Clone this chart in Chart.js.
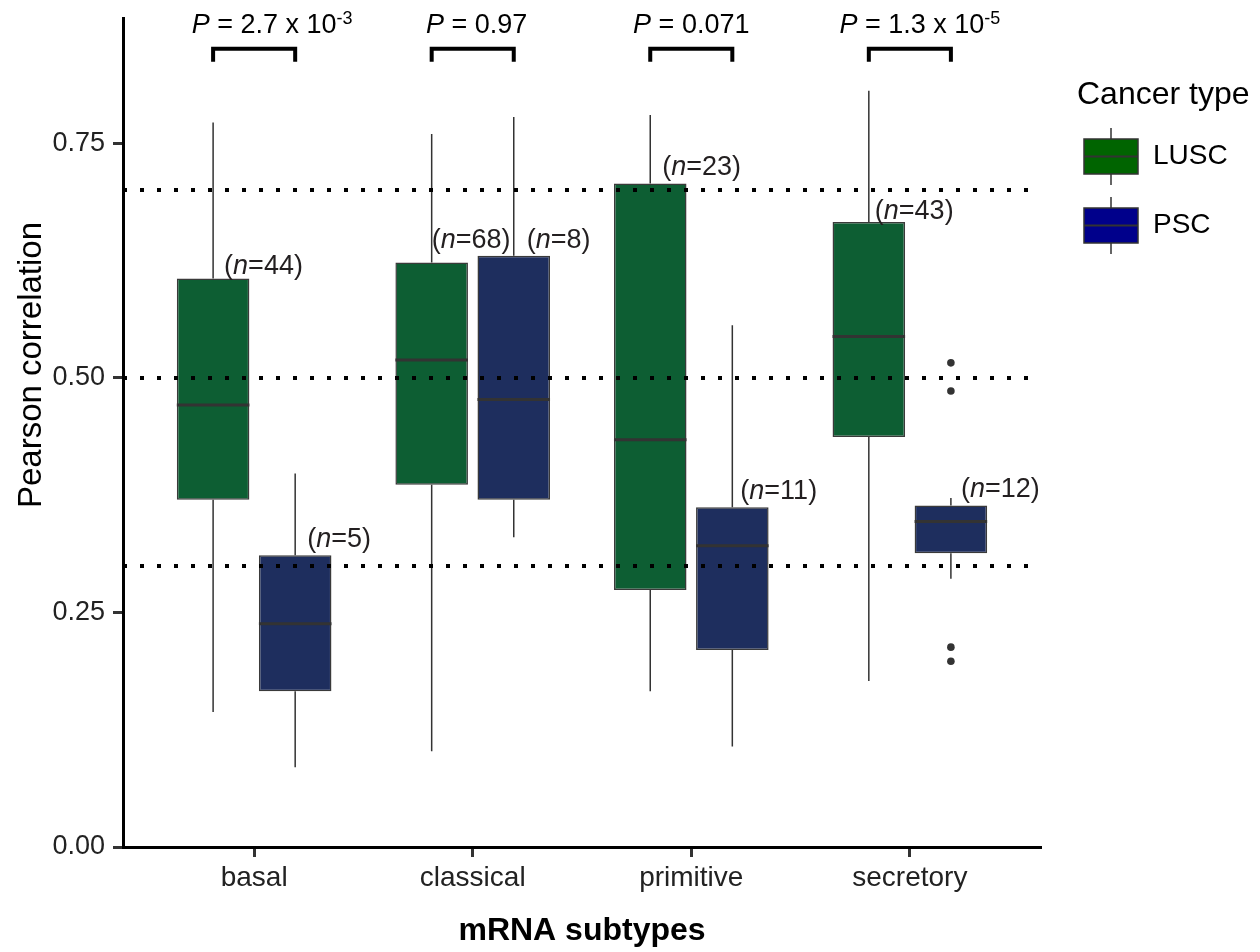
<!DOCTYPE html>
<html>
<head>
<meta charset="utf-8">
<title>Pearson correlation by mRNA subtype</title>
<script src="https://cdn.jsdelivr.net/npm/chart.js@4.4.1/dist/chart.umd.min.js"></script>
<style>
  html, body { margin: 0; padding: 0; background: #fff; }
  #wrap { width: 1260px; height: 952px; }
</style>
</head>
<body>
<div id="wrap"><canvas id="c" width="1260" height="952"></canvas></div>
<script>
// ---- data ----
const categories = ['basal', 'classical', 'primitive', 'secretory'];

// LUSC box statistics per subtype
const luscMin    = [0.144, 0.102, 0.166, 0.177];
const luscQ1     = [0.370, 0.386, 0.274, 0.437];
const luscMedian = [0.471, 0.519, 0.434, 0.544];
const luscQ3     = [0.606, 0.623, 0.707, 0.666];
const luscMax    = [0.772, 0.760, 0.780, 0.806];
const luscN      = [44, 68, 23, 43];
const luscOutliers = [[], [], [], []];

// PSC box statistics per subtype
const pscMin    = [0.085, 0.330, 0.107, 0.286];
const pscQ1     = [0.166, 0.370, 0.210, 0.313];
const pscMedian = [0.238, 0.477, 0.321, 0.347];
const pscQ3     = [0.311, 0.630, 0.362, 0.364];
const pscMax    = [0.398, 0.778, 0.556, 0.372];
const pscN      = [5, 8, 11, 12];
const pscOutliers = [[], [], [], [0.516, 0.486, 0.213, 0.198]];

// Wilcoxon P-values (mantissa text, optional exponent)
const pText = ['2.7 x 10', '0.97', '0.071', '1.3 x 10'];
const pExp  = ['-3', '', '', '-5'];

// dotted reference levels
const refLevels = [0.3, 0.5, 0.7];

// y-axis ticks
const yTicks = [0, 0.25, 0.5, 0.75];

// ---- styling ----
const FONT = '"Liberation Sans", Arial, Helvetica, sans-serif';
const series = [
  { name: 'LUSC', min: luscMin, q1: luscQ1, med: luscMedian, q3: luscQ3, max: luscMax, n: luscN, out: luscOutliers,
    fill: '#0d5e33', key: '#006400' },
  { name: 'PSC', min: pscMin, q1: pscQ1, med: pscMedian, q3: pscQ3, max: pscMax, n: pscN, out: pscOutliers,
    fill: '#1e2e5e', key: '#00008b' }
];
// fine placement of the (n=..) labels: [dx, dy] in px from box centre / upper hinge
const nLabelShift = [
  [[11, -4], [0, -14], [12, -9], [6, -3]],
  [[12, -8], [13, -8], [8, -8], [10, -8]]
];
// horizontal nudge for the P-value captions
const pShift = [10, 4, 0, 2];

// draw a sequence of text runs (mixed fonts) starting at x on baseline y
function runsWidth(ctx, runs) {
  let w = 0;
  runs.forEach(r => { ctx.font = r.font; w += ctx.measureText(r.t).width; });
  return w;
}
function drawRuns(ctx, runs, x, y) {
  ctx.textAlign = 'left';
  ctx.textBaseline = 'alphabetic';
  runs.forEach(r => {
    ctx.font = r.font;
    ctx.fillText(r.t, x, y - (r.dy || 0));
    x += ctx.measureText(r.t).width;
  });
  return x;
}

const boxPlotPlugin = {
  id: 'boxPlotExtras',
  beforeDatasetsDraw(chart) {
    const { ctx, scales: { y } } = chart;
    ctx.save();
    ctx.strokeStyle = '#333';
    ctx.lineWidth = 1.5;
    series.forEach((s, d) => {
      chart.getDatasetMeta(d).data.forEach((bar, i) => {
        const x = bar.x;
        ctx.beginPath();
        ctx.moveTo(x, y.getPixelForValue(s.q3[i]));
        ctx.lineTo(x, y.getPixelForValue(s.max[i]));
        ctx.moveTo(x, y.getPixelForValue(s.q1[i]));
        ctx.lineTo(x, y.getPixelForValue(s.min[i]));
        ctx.stroke();
      });
    });
    ctx.restore();
  },
  afterDatasetsDraw(chart) {
    const { ctx, chartArea, scales: { y } } = chart;
    ctx.save();

    // medians and outliers
    series.forEach((s, d) => {
      chart.getDatasetMeta(d).data.forEach((bar, i) => {
        const ym = y.getPixelForValue(s.med[i]);
        ctx.strokeStyle = '#333';
        ctx.lineWidth = 3;
        ctx.beginPath();
        ctx.moveTo(bar.x - bar.width / 2, ym);
        ctx.lineTo(bar.x + bar.width / 2, ym);
        ctx.stroke();
        ctx.fillStyle = '#333';
        s.out[i].forEach(v => {
          ctx.beginPath();
          ctx.arc(bar.x, y.getPixelForValue(v), 3.8, 0, Math.PI * 2);
          ctx.fill();
        });
      });
    });

    // dotted reference lines
    ctx.strokeStyle = '#000';
    ctx.lineWidth = 4;
    ctx.setLineDash([4, 13]);
    ctx.lineDashOffset = 0;
    refLevels.forEach(v => {
      const yy = Math.round(y.getPixelForValue(v));
      ctx.beginPath();
      ctx.moveTo(chartArea.left, yy);
      ctx.lineTo(chartArea.right, yy);
      ctx.stroke();
    });
    ctx.setLineDash([]);

    // comparison brackets with P-values
    const metaA = chart.getDatasetMeta(0).data;
    const metaB = chart.getDatasetMeta(1).data;
    const yTop = y.getPixelForValue(0.8508);
    const yLeg = y.getPixelForValue(0.8368);
    const yTxt = y.getPixelForValue(0.8672);
    categories.forEach((c, i) => {
      const x1 = metaA[i].x, x2 = metaB[i].x;
      ctx.strokeStyle = '#000';
      ctx.lineWidth = 4;
      ctx.lineJoin = 'miter';
      ctx.lineCap = 'butt';
      ctx.beginPath();
      ctx.moveTo(x1, yLeg);
      ctx.lineTo(x1, yTop);
      ctx.lineTo(x2, yTop);
      ctx.lineTo(x2, yLeg);
      ctx.stroke();

      const main = [
        { t: 'P', font: `italic 27px ${FONT}` },
        { t: ' = ' + pText[i], font: `27px ${FONT}` }
      ];
      const w = runsWidth(ctx, main);
      ctx.fillStyle = '#000';
      let xe = drawRuns(ctx, main, (x1 + x2) / 2 + pShift[i] - w / 2, yTxt);
      if (pExp[i]) {
        drawRuns(ctx, [{ t: pExp[i], font: `18px ${FONT}`, dy: 9 }], xe, yTxt);
      }
    });

    // sample-size labels
    ctx.fillStyle = '#231f20';
    series.forEach((s, d) => {
      chart.getDatasetMeta(d).data.forEach((bar, i) => {
        const [dx, dy] = nLabelShift[d][i];
        drawRuns(ctx, [
          { t: '(', font: `27px ${FONT}` },
          { t: 'n', font: `italic 27px ${FONT}` },
          { t: '=' + s.n[i] + ')', font: `27px ${FONT}` }
        ], bar.x + dx, y.getPixelForValue(s.q3[i]) + dy);
      });
    });
    ctx.restore();
  },
  afterDraw(chart) {
    const { ctx, chartArea } = chart;
    ctx.save();
    ctx.fillStyle = '#000';

    // axis titles
    ctx.font = `bold 32px ${FONT}`;
    ctx.textAlign = 'center';
    ctx.textBaseline = 'alphabetic';
    ctx.fillText('mRNA subtypes', (chartArea.left + chartArea.right) / 2, 940);

    ctx.save();
    ctx.translate(41, 365);
    ctx.rotate(-Math.PI / 2);
    ctx.font = `33px ${FONT}`;
    ctx.fillText('Pearson correlation', 0, 0);
    ctx.restore();

    // legend
    const lx = chartArea.right + 43;
    ctx.textAlign = 'left';
    ctx.font = `32px ${FONT}`;
    ctx.fillText('Cancer type', lx - 7, 104);
    const keyTops = [139, 208];
    series.forEach((s, d) => {
      const top = keyTops[d], kw = 54, kh = 35, cx = lx + kw / 2;
      ctx.strokeStyle = '#333';
      ctx.lineWidth = 1.5;
      ctx.beginPath();
      ctx.moveTo(cx, top - 11); ctx.lineTo(cx, top);
      ctx.moveTo(cx, top + kh); ctx.lineTo(cx, top + kh + 11);
      ctx.stroke();
      ctx.fillStyle = s.key;
      ctx.fillRect(lx, top, kw, kh);
      ctx.strokeRect(lx, top, kw, kh);
      ctx.lineWidth = 2;
      ctx.beginPath();
      ctx.moveTo(lx, top + kh / 2); ctx.lineTo(lx + kw, top + kh / 2);
      ctx.stroke();
      ctx.fillStyle = '#000';
      ctx.font = `28px ${FONT}`;
      ctx.textBaseline = 'middle';
      ctx.fillText(s.name, lx + 69, top + kh / 2);
      ctx.textBaseline = 'alphabetic';
    });
    ctx.restore();
  }
};

new Chart(document.getElementById('c'), {
  type: 'bar',
  data: {
    datasets: series.map(s => ({
      label: s.name,
      data: categories.map((c, i) => ({ x: i + 1, y: [s.q1[i], s.q3[i]] })),
      backgroundColor: s.fill,
      borderColor: '#3a3a3a',
      borderWidth: 1.5,
      borderSkipped: false,
      categoryPercentage: 0.751,
      barPercentage: 0.884
    }))
  },
  options: {
    responsive: false,
    animation: false,
    devicePixelRatio: 1,
    layout: { padding: { left: 0, top: 18, right: 219, bottom: 0 } },
    plugins: { legend: { display: false }, tooltip: { enabled: false } },
    scales: {
      x: {
        type: 'linear',
        min: 0.4,
        max: 4.6,
        offset: false,
        afterBuildTicks(scale) { scale.ticks = categories.map((c, i) => ({ value: i + 1 })); },
        afterFit(scale) {
          scale.height = 105;
          scale.paddingLeft = 0;
          scale.paddingRight = 0;
        },
        ticks: {
          callback: v => categories[Math.round(v) - 1],
          font: { family: FONT, size: 28 },
          color: '#222',
          padding: 4,
          maxRotation: 0,
          autoSkip: false
        },
        grid: { display: true, offset: false, drawOnChartArea: false, drawTicks: true, tickLength: 10, tickWidth: 3, tickColor: '#333' },
        border: { display: true, width: 3, color: '#000' }
      },
      y: {
        min: 0,
        max: 0.8835,
        afterBuildTicks(scale) { scale.ticks = yTicks.map(v => ({ value: v })); },
        afterFit(scale) {
          scale.width = 123;
          scale.paddingTop = 0;
          scale.paddingBottom = 0;
        },
        ticks: {
          callback: v => v.toFixed(2),
          font: { family: FONT, size: 27 },
          color: '#222',
          padding: 8
        },
        grid: { display: true, drawOnChartArea: false, drawTicks: true, tickLength: 10, tickWidth: 3, tickColor: '#333' },
        border: { display: true, width: 3, color: '#000' }
      }
    }
  },
  plugins: [boxPlotPlugin]
});
</script>
</body>
</html>
